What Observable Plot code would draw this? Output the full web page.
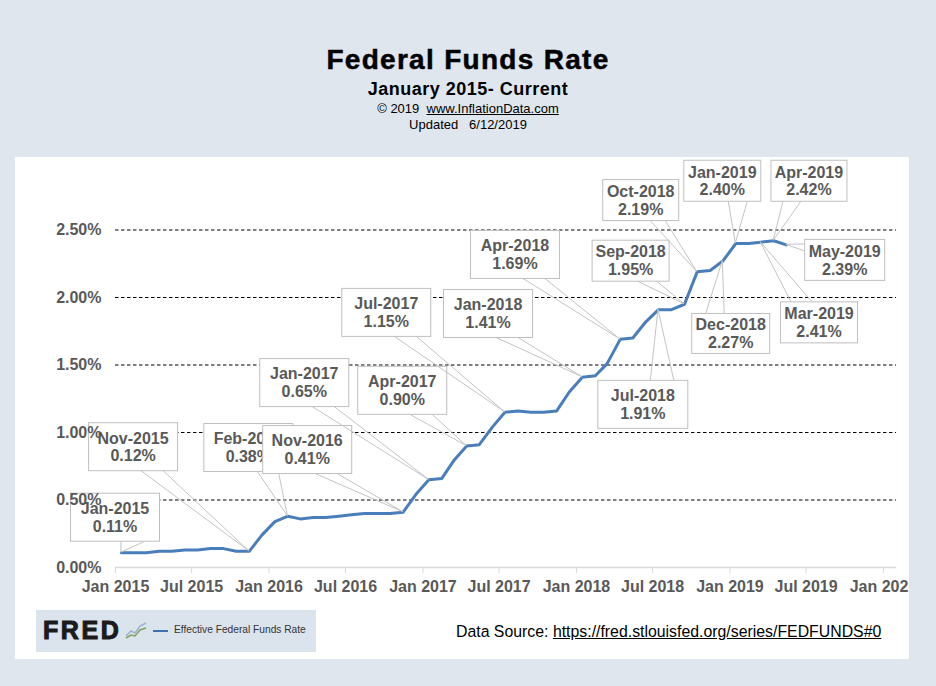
<!DOCTYPE html>
<html>
<head>
<meta charset="utf-8">
<script src="https://cdn.jsdelivr.net/npm/d3@7"></script>
<script src="https://cdn.jsdelivr.net/npm/@observablehq/plot@0.6"></script>
<style>
  html, body { margin: 0; padding: 0; background: #dfe6ee; }
  #page { position: relative; width: 936px; height: 686px; overflow: hidden; font-family: "Liberation Sans", Arial, sans-serif; }
  .hdr { position: absolute; left: 0; width: 936px; text-align: center; color: #000; white-space: pre; }
  #panel { position: absolute; left: 15px; top: 157px; width: 894px; height: 502px; background: #fff; overflow: hidden; }
  #chart svg { overflow: hidden; display: block; }
  #fred { position: absolute; left: 21px; top: 453px; width: 280px; height: 42px; background: #dbe3ec; }
  #fred .logo { position: absolute; left: 7px; top: 7.5px; font-size: 25px; line-height: 25px; font-weight: bold; letter-spacing: 2.6px; color: #1b1b1b; -webkit-text-stroke: 1px #1b1b1b; }
  #fred .dash { position: absolute; left: 117px; top: 20px; width: 15px; height: 2px; background: #3f6fb0; }
  #fred .leg { position: absolute; left: 138px; top: 15px; font-size: 10.2px; line-height: 10.2px; color: #333; white-space: nowrap; }
  #fred svg { position: absolute; left: 89px; top: 10px; }
  #src { position: absolute; left: 441px; top: 466.8px; font-size: 15.85px; line-height: 16px; color: #000; white-space: pre; }
  .u { color: inherit; text-decoration: underline; }
</style>
</head>
<body>
<div id="page">
  <div class="hdr" style="top:45.6px;font-size:28px;line-height:28px;font-weight:bold;letter-spacing:1.3px;-webkit-text-stroke:0.5px #000;">Federal Funds Rate</div>
  <div class="hdr" style="top:80px;font-size:18px;line-height:18px;font-weight:bold;letter-spacing:0.5px;">January 2015- Current</div>
  <div class="hdr" style="top:101.7px;font-size:13px;line-height:13px;">© 2019  <span class="u">www.InflationData.com</span></div>
  <div class="hdr" style="top:118.3px;font-size:13px;line-height:13px;">Updated   6/12/2019</div>
  <div id="panel">
    <div id="chart"></div>
    <div id="fred">
      <div class="logo">FRED</div>
      <svg width="22" height="20" viewBox="0 0 22 20">
        <path d="M1 16 L6 11 L10 13 L15 6 L21 3" fill="none" stroke="#9ab3cf" stroke-width="1.5"/>
        <path d="M1 18 L6 15 L10 16 L15 10 L21 8" fill="none" stroke="#7fa65a" stroke-width="1.5"/>
      </svg>
      <div class="dash"></div>
      <div class="leg">Effective Federal Funds Rate</div>
    </div>
    <div id="src">Data Source: <span class="u">https://fred.stlouisfed.org/series/FEDFUNDS#0</span></div>
  </div>
</div>
<script>
// ---------- data ----------
const months = [
  "2015-01","2015-02","2015-03","2015-04","2015-05","2015-06","2015-07","2015-08","2015-09","2015-10","2015-11","2015-12",
  "2016-01","2016-02","2016-03","2016-04","2016-05","2016-06","2016-07","2016-08","2016-09","2016-10","2016-11","2016-12",
  "2017-01","2017-02","2017-03","2017-04","2017-05","2017-06","2017-07","2017-08","2017-09","2017-10","2017-11","2017-12",
  "2018-01","2018-02","2018-03","2018-04","2018-05","2018-06","2018-07","2018-08","2018-09","2018-10","2018-11","2018-12",
  "2019-01","2019-02","2019-03","2019-04","2019-05"
];
const rates = [
  0.11,0.11,0.11,0.12,0.12,0.13,0.13,0.14,0.14,0.12,0.12,0.24,
  0.34,0.38,0.36,0.37,0.37,0.38,0.39,0.40,0.40,0.40,0.41,0.54,
  0.65,0.66,0.79,0.90,0.91,1.04,1.15,1.16,1.15,1.15,1.16,1.30,
  1.41,1.42,1.51,1.69,1.70,1.82,1.91,1.91,1.95,2.19,2.20,2.27,
  2.40,2.40,2.41,2.42,2.39
];
const yTicks = [0, 0.5, 1.0, 1.5, 2.0, 2.5];
const xTickDates = ["2015-01-01","2015-07-01","2016-01-01","2016-07-01","2017-01-01","2017-07-01",
                    "2018-01-01","2018-07-01","2019-01-01","2019-07-01","2020-01-01"];
const calloutMonths = ["2015-01","2015-11","2016-02","2016-11","2017-01","2017-04","2017-07","2018-01",
                       "2018-04","2018-07","2018-09","2018-10","2018-12","2019-01","2019-03","2019-04","2019-05"];

// ---------- callout layout (box centre in data space, size in px, wedge side) ----------
const calloutLayout = [
  {boxAt:"2015-01-01", boxRate:0.369, w:89, h:48, side:"bottom", o:[6,30]},
  {boxAt:"2015-02-13", boxRate:0.891, w:89, h:48, side:"bottom", o:[8,30]},
  {boxAt:"2015-11-14", boxRate:0.885, w:89, h:48, side:"bottom", o:[9,30]},
  {boxAt:"2016-04-02", boxRate:0.870, w:89, h:48, side:"bottom", o:[8,30]},
  {boxAt:"2016-03-26", boxRate:1.366, w:89, h:48, side:"bottom", o:[8,30]},
  {boxAt:"2016-11-14", boxRate:1.309, w:89, h:48, side:"bottom", o:[7.5,30]},
  {boxAt:"2016-10-07", boxRate:1.886, w:89, h:48, side:"bottom", o:[8,30]},
  {boxAt:"2017-06-06", boxRate:1.878, w:89, h:48, side:"bottom", o:[8,30]},
  {boxAt:"2017-08-09", boxRate:2.315, w:89, h:48, side:"bottom", o:[8,30]},
  {boxAt:"2018-06-09", boxRate:1.205, w:90, h:48, side:"top",    o:[7.5,31]},
  {boxAt:"2018-05-11", boxRate:2.269, w:77, h:41, side:"bottom", o:[7,26]},
  {boxAt:"2018-06-04", boxRate:2.718, w:76, h:41, side:"bottom", o:[9.5,24.5]},
  {boxAt:"2019-01-04", boxRate:1.730, w:78, h:40, side:"top",    o:[-25,-6.5]},
  {boxAt:"2018-12-15", boxRate:2.861, w:77, h:41, side:"bottom", o:[6,25]},
  {boxAt:"2019-08-02", boxRate:1.812, w:77, h:41, side:"top",    o:[-28,-7]},
  {boxAt:"2019-07-09", boxRate:2.861, w:76, h:41, side:"bottom", o:[-26,-8]},
  {boxAt:"2019-10-02", boxRate:2.275, w:80, h:41, side:"left",   o:[-16,-9]}
];

const lineData = months.map((m, i) => ({date: new Date(m + "-15"), rate: rates[i]}));
const xTicks = xTickDates.map(d => new Date(d));
const fmtTick = d3.utcFormat("%b %Y");
const fmtCallout = d3.utcFormat("%b-%Y");
const FONT = "'Liberation Sans', Arial, sans-serif";
const TXT = "#595959";

function calloutMark(index, scales) {
  const g = d3.create("svg:g")
    .attr("font-family", FONT).attr("font-size", 16).attr("font-weight", "bold")
    .attr("fill", TXT).attr("text-anchor", "middle");
  calloutMonths.forEach((m, k) => {
    const c = calloutLayout[k];
    const d = lineData[months.indexOf(m)];
    const px = scales.x(d.date), py = scales.y(d.rate);
    const cx = scales.x(new Date(c.boxAt)), cy = scales.y(c.boxRate);
    const x0 = cx - c.w / 2, y0 = cy - c.h / 2;
    let b1, b2;
    if (c.side === "bottom") { b1 = [cx + c.o[0], y0 + c.h]; b2 = [cx + c.o[1], y0 + c.h]; }
    else if (c.side === "top") { b1 = [cx + c.o[0], y0]; b2 = [cx + c.o[1], y0]; }
    else { b1 = [x0, cy + c.o[0]]; b2 = [x0, cy + c.o[1]]; }
    g.append("path")
      .attr("d", `M${b1[0]},${b1[1]}L${px},${py}L${b2[0]},${b2[1]}`)
      .attr("fill", "none").attr("stroke", "#c4c4c4").attr("stroke-width", 1);
    g.append("rect")
      .attr("x", x0).attr("y", y0).attr("width", c.w).attr("height", c.h)
      .attr("fill", "#fff").attr("stroke", "#bfbfbf").attr("stroke-width", 1);
    g.append("text").attr("x", cx).attr("y", cy - 3.2).text(fmtCallout(d.date));
    g.append("text").attr("x", cx).attr("y", cy + 14.7).text(d.rate.toFixed(2) + "%");
  });
  return g.node();
}

const chart = Plot.plot({
  width: 894,
  height: 450,
  marginLeft: 100,
  marginRight: 13,
  marginTop: 5,
  marginBottom: 40,
  style: {fontFamily: FONT, background: "white", overflow: "hidden"},
  x: {type: "utc", domain: [new Date("2015-01-01"), new Date("2020-02-01")], axis: null},
  y: {domain: [0, 3], axis: null},
  marks: [
    Plot.ruleY(yTicks.filter(v => v > 0), {y: d => d, stroke: "#000", strokeWidth: 1, strokeDasharray: "3.5,2.5"}),
    Plot.ruleY([0], {y: d => d, stroke: "#d9d9d9", strokeWidth: 1.5}),
    Plot.ruleX(xTicks, {x: d => d, y1: () => 0, y2: () => 0, insetBottom: -6, stroke: "#d9d9d9", strokeWidth: 1}),
    Plot.text(xTicks, {x: d => d, frameAnchor: "bottom", dy: 24, lineAnchor: "bottom", text: d => fmtTick(d),
      fontSize: 16, fontWeight: "bold", fill: TXT, textAnchor: "middle"}),
    Plot.line(lineData, {x: "date", y: "rate", stroke: "#4a7ebb", strokeWidth: 3, strokeLinejoin: "round", strokeLinecap: "round"}),
    calloutMark,
    Plot.text(yTicks, {y: d => d, frameAnchor: "left", dx: -14, text: d => d.toFixed(2) + "%",
      fontSize: 16, fontWeight: "bold", fill: TXT, textAnchor: "end", lineAnchor: "middle"})
  ]
});
document.getElementById("chart").appendChild(chart);
</script>
</body>
</html>
